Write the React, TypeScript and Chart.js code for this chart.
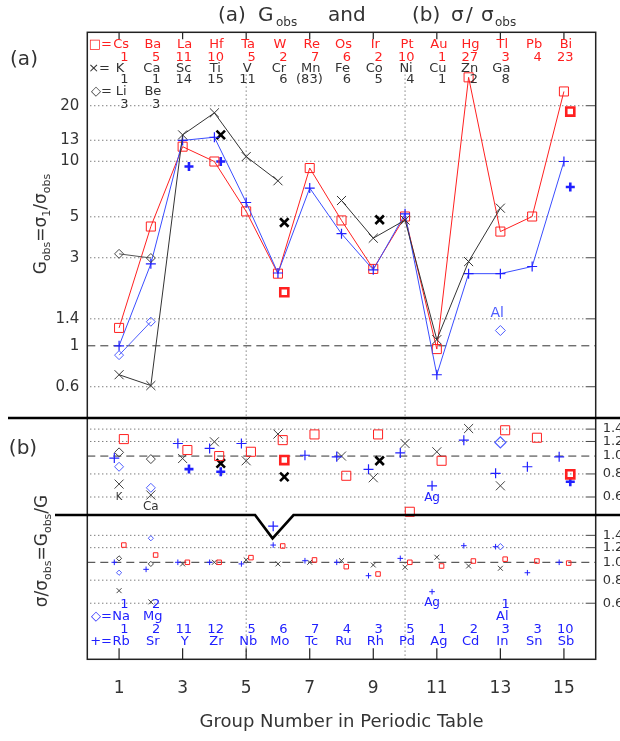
import React, { useEffect, useRef } from "react";
import { Chart, registerables } from "chart.js";

Chart.register(...registerables);

// ---------------- data ----------------
const groups15 = [1, 2, 3, 4, 5, 6, 7, 8, 9, 10, 11, 12, 13, 14, 15];
const groups13 = [1, 2, 3, 4, 5, 6, 7, 8, 9, 10, 11, 12, 13];
const groups2 = [1, 2];

// period 6 (red squares)
const p6Names = ["Cs", "Ba", "La", "Hf", "Ta", "W", "Re", "Os", "Ir", "Pt", "Au", "Hg", "Tl", "Pb", "Bi"];
const p6Counts = ["1", "5", "11", "10", "5", "2", "7", "6", "2", "10", "1", "27", "3", "4", "23"];
const p6G = [1.25, 4.43, 12.0, 9.97, 5.35, 2.46, 9.19, 4.78, 2.61, 5.02, 0.96, 28.5, 4.16, 5.02, 23.9];
const p6RatioUpper = [1.236, null, 1.078, 1.0, 1.055, 1.22, 1.31, 0.782, 1.31, 0.499, 0.943, null, 1.38, 1.257, null];
const p6RatioLower = [1.24, 1.095, 1.0, 1.0, 1.06, 1.226, 1.03, 0.947, 0.864, 1.0, 0.955, 1.016, 1.04, 1.016, 0.99];

// period 5 (blue plus)
const p5Names = ["Rb", "Sr", "Y", "Zr", "Nb", "Mo", "Tc", "Ru", "Rh", "Pd", "Ag", "Cd", "In", "Sn", "Sb"];
const p5Counts = ["1", "2", "11", "12", "5", "6", "7", "4", "3", "5", "1", "2", "3", "3", "10"];
const p5G = [1.0, 2.78, 12.97, 13.5, 5.98, 2.48, 7.16, 4.05, 2.58, 5.19, 0.697, 2.46, 2.46, 2.69, 9.97];
const p5RatioUpper = [0.975, null, 1.17, 1.1, 1.17, 0.417, 1.01, 0.99, 0.847, 1.04, 0.69, 1.22, 0.806, 0.875, 0.99];
const p5RatioLower = [1.0, 0.916, 1.0, 1.0, 0.98, 1.24, 1.02, 1.0, 0.846, 1.05, 0.693, 1.23, 1.215, 0.878, 1.0];

// period 4 (black cross)
const p4Names = ["K", "Ca", "Sc", "Ti", "V", "Cr", "Mn", "Fe", "Co", "Ni", "Cu", "Zn", "Ga"];
const p4Counts = ["1", "1", "14", "15", "11", "6", "(83)", "6", "5", "4", "1", "2", "8"];
const p4G = [0.697, 0.609, 13.9, 18.3, 10.6, 7.84, null, 6.13, 3.83, 4.8, 1.08, 2.86, 5.57];
const p4RatioUpper = [0.705, 0.615, 0.97, 1.195, 0.943, 1.316, null, 1.0, 0.763, 1.17, 1.055, 1.41, 0.69];
const p4RatioLower = [0.702, 0.61, 0.98, 1.0, 1.03, 0.98, 1.0, 1.02, 0.967, 0.94, 1.065, 0.955, 0.928];

// period 2 (black diamonds)
const p2Names = ["Li", "Be"];
const p2Counts = ["3", "3"];
const p2G = [3.15, 2.99];
const p2RatioUpper = [1.047, 0.963];
const p2RatioLower = [1.05, 0.98];

// period 3 (blue diamonds)
const p3Names = ["Na", "Mg"];
const p3Counts = ["1", "2"];
const p3G = [0.89, 1.35];
const p3RatioUpper = [0.875, 0.673];
const p3RatioLower = [0.878, 1.35];

// aluminium
const alGroup = [13];
const alG = [1.21];
const alRatioUpper = [1.186];
const alRatioLower = [1.215];

// bold (alternative) points
const boldP6Groups = [6, 15];
const boldP6G = [1.95, 18.6];
const boldP6RatioUpper = [0.951, 0.796];
const boldP4Groups = [4, 6, 9];
const boldP4G = [13.9, 4.66, 4.82];
const boldP4RatioUpper = [0.913, 0.772, 0.943];
const boldP5Groups = [3, 4, 15];
const boldP5G = [9.37, 9.97, 7.25];
const boldP5RatioUpper = [0.85, 0.822, 0.726];

// ticks
const leftTicks = [0.6, 1, 1.4, 3, 5, 10, 13, 20];
const leftTickLabels = ["0.6", "1", "1.4", "3", "5", "10", "13", "20"];
const rightTicks = [0.6, 0.8, 1.0, 1.2, 1.4];
const rightTickLabels = ["0.6", "0.8", "1.0", "1.2", "1.4"];
const xTicks = [1, 3, 5, 7, 9, 11, 13, 15];
const xGridLines = [5, 10];

// ---------------- layout (not data) ----------------
const W = 620;
const H = 741;
const Y_MIN = 0.02;
const Y_MAX = 50;
const SHIFT_UPPER = 0.2526; // ratio strip offset on the shared log axis
const SHIFT_LOWER = 0.0671;
const SPLIT_AB = 0.406; // panel (a)/(b) border on axis
const SPLIT_STRIP = 0.479; // upper strip border (in upper-strip ratio units)
const DIP_GROUPS = [5.28, 5.83, 6.49];
const DIP_RATIO = [0.479, 0.358, 0.479];
const OFF_RED = 0.15;
const OFF_BLUE = -0.15;
const OFF_BOLD = 0.2;

const FONT = '"DejaVu Sans", "Liberation Sans", sans-serif';
const RED = "#ff2020";
const BLUE = "#2020ff";
const LBLUE = "#4d5cff";
const BLACK = "#222222";
const TEXT = "#333333";
const GRAY = "#444444";

type V = number | null;
const pts = (xs: number[], ys: V[], dx = 0, k = 1) =>
  xs.map((x, i) => ({ x: x + dx, y: ys[i] == null ? null : (ys[i] as number) * k }));

function mk(label: string, data: any[], style: string, color: string, r: number, bw = 1, line = false, lineColor?: string) {
  return {
    label,
    data,
    showLine: line,
    spanGaps: false,
    borderColor: lineColor || color,
    borderWidth: 1,
    pointStyle: style,
    pointRadius: r,
    pointBorderWidth: bw,
    pointBorderColor: color,
    pointBackgroundColor: "rgba(0,0,0,0)",
    clip: false,
  };
}

function txt(ctx: CanvasRenderingContext2D, s: string, x: number, y: number, size: number, color: string, align: CanvasTextAlign = "center") {
  ctx.font = `${size}px ${FONT}`;
  ctx.fillStyle = color;
  ctx.textAlign = align;
  ctx.textBaseline = "middle";
  ctx.fillText(s, x, y);
}

type Piece = { t: string; s: number; dy?: number; gap?: number };
function rich(ctx: CanvasRenderingContext2D, pieces: Piece[], cx: number, cy: number, color: string) {
  let total = 0;
  const ws = pieces.map((p) => {
    ctx.font = `${p.s}px ${FONT}`;
    const w = ctx.measureText(p.t).width + (p.gap || 0);
    total += w;
    return w;
  });
  let x = cx - total / 2;
  ctx.fillStyle = color;
  ctx.textAlign = "left";
  ctx.textBaseline = "middle";
  pieces.forEach((p, i) => {
    ctx.font = `${p.s}px ${FONT}`;
    ctx.fillText(p.t, x, cy + (p.dy || 0));
    x += ws[i];
  });
}

const overlay = {
  id: "overlay",
  beforeDatasetsDraw(chart: any) {
    const { ctx, chartArea: a, scales } = chart;
    const xs = scales.x;
    const ys = scales.y;
    ctx.save();
    ctx.strokeStyle = GRAY;
    ctx.lineWidth = 1;
    const seg = (x1: number, y1: number, x2: number, y2: number) => {
      ctx.beginPath();
      ctx.moveTo(x1, y1);
      ctx.lineTo(x2, y2);
      ctx.stroke();
    };
    const dotted = (py: number) => {
      ctx.setLineDash([1, 3]);
      seg(a.left + 3, py, a.right - 11, py);
      ctx.setLineDash([]);
      seg(a.right - 10, py, a.right, py);
    };
    leftTicks.forEach((v) => {
      if (v !== 1) dotted(ys.getPixelForValue(v));
    });
    [SHIFT_UPPER, SHIFT_LOWER].forEach((k) => {
      rightTicks.forEach((v) => {
        if (v !== 1) dotted(ys.getPixelForValue(v * k));
      });
    });
    ctx.setLineDash([8, 5]);
    ctx.strokeStyle = "#333";
    [1, SHIFT_UPPER, SHIFT_LOWER].forEach((v) => {
      const py = ys.getPixelForValue(v);
      seg(a.left, py, a.right, py);
    });
    ctx.setLineDash([1, 3]);
    ctx.strokeStyle = GRAY;
    xGridLines.forEach((g) => {
      const px = xs.getPixelForValue(g);
      seg(px, ys.getPixelForValue(31), px, a.bottom);
    });
    ctx.restore();
  },
  afterDatasetsDraw(chart: any) {
    const { ctx, chartArea: a, scales } = chart;
    const xs = scales.x;
    const ys = scales.y;
    const X = (g: number) => xs.getPixelForValue(g);
    ctx.save();
    ctx.setLineDash([]);
    ctx.strokeStyle = BLACK;
    // frame
    ctx.lineWidth = 1.5;
    ctx.strokeRect(a.left, a.top, a.right - a.left, a.bottom - a.top);
    // x tick marks
    ctx.lineWidth = 1.2;
    xTicks.forEach((g) => {
      const px = X(g);
      ctx.beginPath();
      ctx.moveTo(px, a.bottom);
      ctx.lineTo(px, a.bottom - 11);
      ctx.moveTo(px, a.top);
      ctx.lineTo(px, a.top + 7);
      ctx.stroke();
    });
    // separators
    ctx.lineWidth = 2.6;
    ctx.strokeStyle = "#000";
    const yAB = ys.getPixelForValue(SPLIT_AB);
    ctx.beginPath();
    ctx.moveTo(8, yAB);
    ctx.lineTo(W, yAB);
    ctx.stroke();
    const yS = ys.getPixelForValue(SPLIT_STRIP * SHIFT_UPPER);
    ctx.beginPath();
    ctx.moveTo(55, yS);
    DIP_GROUPS.forEach((g, i) => ctx.lineTo(X(g), ys.getPixelForValue(DIP_RATIO[i] * SHIFT_UPPER)));
    ctx.lineTo(W, yS);
    ctx.stroke();

    // top title
    txt(ctx, "(a)", 218, 16, 20, TEXT, "left");
    txt(ctx, "G", 258, 16, 20, TEXT, "left");
    txt(ctx, "obs", 276, 23, 12, TEXT, "left");
    txt(ctx, "and", 328, 16, 20, TEXT, "left");
    txt(ctx, "(b)", 412, 16, 20, TEXT, "left");
    txt(ctx, "σ", 451, 16, 20, TEXT, "left");
    txt(ctx, "/", 466, 16, 20, TEXT, "left");
    txt(ctx, "σ", 481, 16, 20, TEXT, "left");
    txt(ctx, "obs", 495, 23, 12, TEXT, "left");

    // panel labels
    txt(ctx, "(a)", 24, 60, 20, TEXT);
    txt(ctx, "(b)", 23, 449, 20, TEXT);

    // y titles
    ctx.save();
    ctx.translate(42, 224);
    ctx.rotate(-Math.PI / 2);
    rich(
      ctx,
      [
        { t: "G", s: 17 },
        { t: "obs", s: 11, dy: 5 },
        { t: "=", s: 17 },
        { t: "σ", s: 17 },
        { t: "1", s: 11, dy: 5 },
        { t: "/", s: 17 },
        { t: "σ", s: 17 },
        { t: "obs", s: 11, dy: 5 },
      ],
      0,
      0,
      TEXT
    );
    ctx.restore();
    ctx.save();
    ctx.translate(43, 551);
    ctx.rotate(-Math.PI / 2);
    rich(
      ctx,
      [
        { t: "σ", s: 17 },
        { t: "/", s: 17 },
        { t: "σ", s: 17 },
        { t: "obs", s: 11, dy: 5 },
        { t: "=", s: 17 },
        { t: "G", s: 17 },
        { t: "obs", s: 11, dy: 5 },
        { t: "/", s: 17 },
        { t: "G", s: 17 },
      ],
      0,
      0,
      TEXT
    );
    ctx.restore();

    // top legend rows
    const NS = 13;
    txt(ctx, "□=", 112, 45, NS, RED, "right");
    p6Names.forEach((n, i) => txt(ctx, n, X(groups15[i]) + 2, 45, NS, RED));
    p6Counts.forEach((n, i) => txt(ctx, n, X(groups15[i]) + 9.5, 57.5, NS, RED, "right"));
    txt(ctx, "×=", 110, 68.5, NS, TEXT, "right");
    p4Names.forEach((n, i) => txt(ctx, n, X(groups13[i]) + 1, 68.5, NS, TEXT));
    p4Counts.forEach((n, i) => txt(ctx, n, X(groups13[i]) + (n.length > 3 ? 13 : 9.5), 80, NS, TEXT, "right"));
    txt(ctx, "◇=", 112, 92, NS, TEXT, "right");
    p2Names.forEach((n, i) => txt(ctx, n, X(groups2[i]) + 2, 92, NS, TEXT));
    p2Counts.forEach((n, i) => txt(ctx, n, X(groups2[i]) + 9.5, 105, NS, TEXT, "right"));

    // bottom legend rows
    p3Counts.forEach((n, i) => txt(ctx, n, X(groups2[i]) + 9.5, 605, NS, BLUE, "right"));
    txt(ctx, "1", X(alGroup[0]) + 9.5, 605, NS, BLUE, "right");
    txt(ctx, "◇=", 112, 617, NS, BLUE, "right");
    p3Names.forEach((n, i) => txt(ctx, n, X(groups2[i]) + 2, 617, NS, BLUE));
    txt(ctx, "Al", X(alGroup[0]) + 2, 617, NS, BLUE);
    p5Counts.forEach((n, i) => txt(ctx, n, X(groups15[i]) + 9.5, 630, NS, BLUE, "right"));
    txt(ctx, "+=", 112, 642, NS, BLUE, "right");
    p5Names.forEach((n, i) => txt(ctx, n, X(groups15[i]) + 2, 642, NS, BLUE));

    // point labels
    txt(ctx, "K", X(1), 497, 10, TEXT);
    txt(ctx, "Ca", X(2), 507, 12, TEXT);
    txt(ctx, "Ag", X(10.85), 498, 12, BLUE);
    txt(ctx, "Ag", X(10.85), 603, 12, BLUE);
    txt(ctx, "Al", X(12.9), 313, 14, LBLUE);
    ctx.restore();
  },
};

export default function App() {
  const ref = useRef<HTMLCanvasElement | null>(null);
  useEffect(() => {
    if (!ref.current) return;
    const U = SHIFT_UPPER;
    const L = SHIFT_LOWER;
    const datasets: any[] = [
      // panel (a)
      mk("p4", pts(groups13, p4G), "crossRot", "#333", 6.4, 1, true, "#333"),
      mk("p2", pts(groups2, p2G), "rectRot", "#444", 4.5, 1, true, "#555"),
      mk("p3", pts(groups2, p3G), "rectRot", LBLUE, 4.5, 1, true, LBLUE),
      mk("al", pts(alGroup, alG), "rectRot", LBLUE, 5, 1),
      mk("p5", pts(groups15, p5G), "cross", BLUE, 5, 1.2, true, "#3a4dff"),
      mk("p6", pts(groups15, p6G), "rect", RED, 6.4, 1, true, RED),
      mk("b6", pts(boldP6Groups, boldP6G, OFF_BOLD), "rect", RED, 5.7, 2.6),
      mk("b4", pts(boldP4Groups, boldP4G, OFF_BOLD), "crossRot", "#000", 6, 2.6),
      mk("b5", pts(boldP5Groups, boldP5G, OFF_BOLD), "cross", BLUE, 4.5, 2.6),
      // panel (b) upper strip
      mk("p6u", pts(groups15, p6RatioUpper, OFF_RED, U), "rect", RED, 6.4, 1),
      mk("p5u", pts(groups15, p5RatioUpper, OFF_BLUE, U), "cross", BLUE, 5, 1.2),
      mk("p4u", pts(groups13, p4RatioUpper, 0, U), "crossRot", GRAY, 6.4, 1),
      mk("p2u", pts(groups2, p2RatioUpper, 0, U), "rectRot", GRAY, 4.5, 1),
      mk("p3u", pts(groups2, p3RatioUpper, 0, U), "rectRot", LBLUE, 4.5, 1),
      mk("alu", pts(alGroup, alRatioUpper, 0, U), "rectRot", LBLUE, 5.5, 1.2),
      mk("b6u", pts(boldP6Groups, boldP6RatioUpper, OFF_BOLD, U), "rect", RED, 5.7, 2.6),
      mk("b4u", pts(boldP4Groups, boldP4RatioUpper, OFF_BOLD, U), "crossRot", "#000", 6, 2.6),
      mk("b5u", pts(boldP5Groups, boldP5RatioUpper, OFF_BOLD, U), "cross", BLUE, 4.5, 2.6),
      // panel (b) lower strip
      mk("p6l", pts(groups15, p6RatioLower, OFF_RED, L), "rect", RED, 3.2, 1),
      mk("p5l", pts(groups15, p5RatioLower, OFF_BLUE, L), "cross", BLUE, 2.8, 1),
      mk("p4l", pts(groups13, p4RatioLower, 0, L), "crossRot", GRAY, 3.5, 1),
      mk("p2l", pts(groups2, p2RatioLower, 0, L), "rectRot", GRAY, 2.6, 1),
      mk("p3l", pts(groups2, p3RatioLower, 0, L), "rectRot", LBLUE, 2.6, 1),
      mk("all", pts(alGroup, alRatioLower, 0, L), "rectRot", LBLUE, 3.2, 1),
    ];
    const rightVals: number[] = [];
    const rightLabs: string[] = [];
    [SHIFT_LOWER, SHIFT_UPPER].forEach((k) =>
      rightTicks.forEach((v, i) => {
        rightVals.push(v * k);
        rightLabs.push(rightTickLabels[i]);
      })
    );
    const chart = new Chart(ref.current, {
      type: "scatter",
      data: { datasets },
      plugins: [overlay],
      options: {
        animation: false,
        responsive: false,
        events: [],
        layout: { padding: { top: 32.3, left: 0, right: 0, bottom: 0 } },
        plugins: { legend: { display: false }, tooltip: { enabled: false } },
        scales: {
          x: {
            type: "linear",
            position: "bottom",
            min: 0,
            max: 16,
            afterBuildTicks: (s: any) => {
              s.ticks = xTicks.map((v) => ({ value: v }));
            },
            afterFit: (s: any) => {
              s.height = H - 659.3;
            },
            ticks: {
              autoSkip: false,
              maxRotation: 0,
              padding: 19,
              color: TEXT,
              font: { family: FONT, size: 17 },
              callback: (v: any) => String(v),
            },
            grid: { display: false, drawTicks: false },
            border: { display: false },
            title: {
              display: true,
              text: "Group Number in Periodic Table",
              color: TEXT,
              font: { family: FONT, size: 18 },
              padding: { top: 0, bottom: 8 },
            },
          },
          y: {
            type: "logarithmic",
            position: "left",
            min: Y_MIN,
            max: Y_MAX,
            afterBuildTicks: (s: any) => {
              s.ticks = leftTicks.map((v) => ({ value: v }));
            },
            afterFit: (s: any) => {
              s.width = 87.3;
            },
            ticks: {
              autoSkip: false,
              padding: 8,
              color: TEXT,
              font: { family: FONT, size: 15 },
              callback: (_v: any, i: number) => leftTickLabels[i],
            },
            grid: { display: false, drawTicks: false },
            border: { display: false },
          },
          yR: {
            type: "logarithmic",
            position: "right",
            min: Y_MIN,
            max: Y_MAX,
            afterBuildTicks: (s: any) => {
              s.ticks = rightVals.map((v) => ({ value: v }));
            },
            afterFit: (s: any) => {
              s.width = W - 595.7;
            },
            ticks: {
              autoSkip: false,
              padding: 7,
              color: TEXT,
              font: { family: FONT, size: 13 },
              callback: (_v: any, i: number) => rightLabs[i],
            },
            grid: { display: false, drawTicks: false },
            border: { display: false },
          },
        },
      } as any,
    });
    return () => chart.destroy();
  }, []);
  return (
    <div style={{ position: "absolute", left: 0, top: 0, width: W, height: H, background: "#fff" }}>
      <canvas ref={ref} width={W} height={H} style={{ display: "block", width: W, height: H }} />
    </div>
  );
}
